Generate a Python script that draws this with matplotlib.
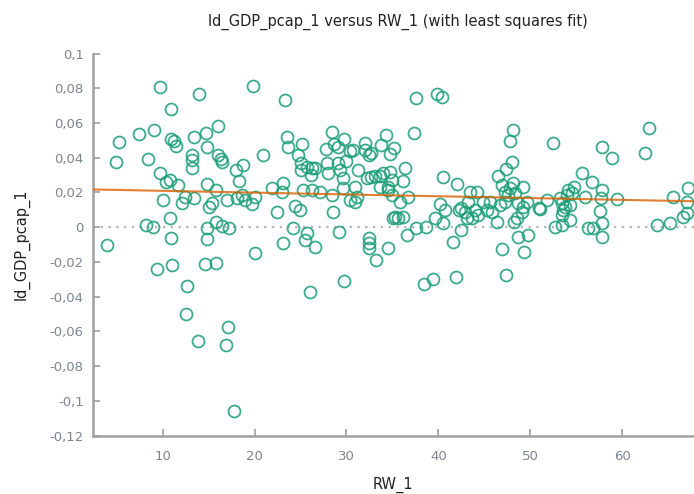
import numpy as np
import matplotlib
matplotlib.use('Agg')
import matplotlib.pyplot as plt
from matplotlib.ticker import FuncFormatter

# RW_1 values and ld_GDP_pcap_1 values
rw_1 = [
    9.7, 14.0, 10.87, 16.05, 9.09, 7.39, 5.28, 10.9, 11.2, 11.5, 13.4, 14.7, 14.85, 13.16, 13.16, 13.16,
    16.05, 16.3, 16.5, 4.89, 8.43, 18.0, 9.7, 10.8, 10.4, 11.7, 14.8, 18.3, 15.8, 10.0, 12.07, 12.4,
    13.4, 15.07, 15.4, 16.96, 18.05, 10.8, 8.2, 9.0, 10.87, 14.8, 14.85, 15.8, 16.5, 17.2, 3.97,
    9.35, 10.98, 14.6, 15.8, 12.7, 12.5, 13.9, 17.07, 16.9, 17.76,
    19.86, 23.3, 28.4, 23.5, 23.6, 25.2, 29.7, 27.8, 28.6, 29.1, 30.4, 30.75, 32.0, 32.0, 32.4, 32.7,
    34.3, 33.8, 34.7, 20.9, 18.8, 24.7, 25.1, 25.1, 25.7, 26.2, 26.6, 26.1, 27.9, 28.0, 29.1, 29.3,
    30.0, 31.3, 29.65, 32.2, 32.7, 33.1, 33.6, 34.0, 34.7, 33.6, 34.5, 23.06, 22.95, 21.9, 18.6, 18.95,
    19.7, 20.04, 25.3, 26.3, 27.1, 28.4, 29.65, 30.9, 30.4, 30.9, 31.1, 34.5, 34.9, 22.4, 24.4, 24.9,
    28.5, 24.15, 25.7, 25.5, 26.6, 23.1, 20.04, 29.2, 32.5, 32.4, 32.4, 34.5, 35.1,
    33.2, 29.76, 26.0,
    37.56, 39.8, 40.35, 37.35, 48.1, 47.8, 48.0, 47.4, 46.5, 35.2, 36.4, 34.9, 36.1, 36.7, 35.8, 35.3,
    36.2, 35.65, 40.5, 42.0, 40.2, 40.75, 39.65, 40.5, 37.6, 38.7, 36.55, 41.55, 42.5, 42.2, 42.5, 42.9,
    43.25, 43.4, 44.2, 44.0, 44.3, 43.6, 44.9, 45.25, 45.8, 45.6, 46.4, 43.1, 46.9, 47.25, 47.6, 47.8,
    48.15, 48.35, 47.25, 46.7, 49.2, 48.7, 49.2, 49.05, 49.6, 48.5, 50.9, 48.2, 48.7, 49.7, 46.9,
    49.35, 38.4, 39.4, 41.9, 47.35,
    62.95, 52.5, 57.8, 58.9, 62.5, 55.6, 56.7, 54.7, 54.1, 53.95, 54.5, 53.2, 53.4, 53.8, 53.6, 54.3,
    51.8, 51.05, 55.95, 57.8, 57.7, 59.4, 57.6, 57.8, 57.8, 53.4, 54.3, 52.7, 53.4, 56.3, 56.85, 63.75,
    65.2, 65.55, 67.2, 67.0, 66.65, 67.0,
]
ld_gdp_pcap_1 = [
    0.081, 0.0766, 0.0681, 0.058, 0.056, 0.0537, 0.049, 0.051, 0.0497, 0.047, 0.052, 0.0543, 0.0464, 0.0416, 0.0388, 0.034,
    0.0416, 0.0393, 0.0378, 0.0374, 0.0393, 0.033, 0.0315, 0.0272, 0.026, 0.0244, 0.025, 0.0265, 0.0215, 0.0157, 0.0138, 0.0176,
    0.0171, 0.0119, 0.0138, 0.0157, 0.0167, 0.0055, 0.0013, 0.0003, -0.006, -0.0006, -0.0069, 0.0032, 0.0009, -0.0006, -0.0102,
    -0.0242, -0.0217, -0.0211, -0.0204, -0.0338, -0.0501, -0.0655, -0.0576, -0.0678, -0.1056,
    0.0814, 0.0733, 0.0551, 0.0522, 0.0464, 0.0478, 0.0509, 0.0451, 0.0478, 0.0459, 0.044, 0.0445, 0.0484, 0.0445, 0.0416, 0.0426,
    0.0532, 0.0474, 0.042, 0.0416, 0.0359, 0.0416, 0.0369, 0.033, 0.0349, 0.034, 0.0343, 0.0301, 0.0369, 0.0311, 0.0369, 0.033,
    0.0382, 0.033, 0.0286, 0.0282, 0.0291, 0.0297, 0.0297, 0.0311, 0.032, 0.0234, 0.0234, 0.0253, 0.0205, 0.0228, 0.0186, 0.0157,
    0.0134, 0.0176, 0.0215, 0.0215, 0.0205, 0.0186, 0.0225, 0.0234, 0.0157, 0.0147, 0.0176, 0.0215, 0.0186, 0.009, 0.0124, 0.01,
    0.009, -0.0006, -0.0035, -0.0073, -0.0115, -0.0092, -0.0148, -0.0025, -0.0063, -0.0092, -0.0121, -0.0118, 0.0052,
    -0.0188, -0.0308, -0.0374,
    0.0743, 0.0766, 0.0749, 0.0541, 0.056, 0.0497, 0.0378, 0.0336, 0.0297, 0.0455, 0.0343, 0.0272, 0.0267, 0.0176, 0.0147, 0.0061,
    0.0061, 0.0052, 0.0291, 0.0248, 0.0132, 0.01, 0.0052, 0.0023, -0.0006, 0.0003, -0.0044, -0.0083, -0.0016, 0.01, 0.011, 0.009,
    0.0147, 0.0205, 0.0205, 0.01, 0.0071, 0.0052, 0.0147, 0.01, 0.009, 0.0147, 0.0032, 0.0052, 0.0244, 0.0205, 0.0186, 0.0225,
    0.0253, 0.0196, 0.0147, 0.0128, 0.0234, 0.0138, 0.0119, 0.009, 0.0147, 0.0052, 0.011, 0.0032, -0.0054, -0.0044, -0.0128,
    -0.014, -0.0328, -0.03, -0.0288, -0.0275,
    0.0574, 0.0484, 0.0464, 0.0397, 0.0426, 0.0311, 0.0259, 0.0234, 0.0215, 0.0186, 0.0196, 0.0167, 0.0138, 0.0119, 0.01, 0.0128,
    0.0157, 0.0105, 0.0176, 0.0215, 0.0171, 0.0163, 0.0094, 0.0023, -0.0054, 0.0071, 0.0042, 0.0003, 0.0013, -0.0006, -0.0006, 0.0013,
    0.0023, 0.0176, 0.0228, 0.0147, 0.0061, 0.0081,
]

x = np.array(rw_1)
y = np.array(ld_gdp_pcap_1)

# least squares fit of y on x
slope, intercept = np.polyfit(x, y, 1)

xmin, xmax = 2.4, 67.8

fig = plt.figure(figsize=(6.94, 4.94), dpi=100)
ax = fig.add_axes([0.1336, 0.118, 1.0 - 0.1336, 0.7737])

grey = '#a0a0a0'
ax.axhline(0, color='#b4b4b4', linestyle=(0, (1, 2.5)), linewidth=1.6, zorder=1)

ax.plot(x, y, 'o', markersize=8.6, markerfacecolor='none',
        markeredgecolor='#1b9e77', markeredgewidth=1.3, alpha=0.85, zorder=3)

xf = np.array([xmin, xmax])
ax.plot(xf, intercept + slope * xf, color='#d95f02', linewidth=1.5, alpha=0.8, zorder=4)

ax.set_xlim(xmin, xmax)
ax.set_ylim(-0.12, 0.1)
ax.set_xticks([10, 20, 30, 40, 50, 60])
ax.set_yticks(np.arange(-0.12, 0.1001, 0.02))

def comma_fmt(v, pos):
    s = '{:g}'.format(round(v, 2))
    if s == '-0':
        s = '0'
    return s.replace('.', ',')

ax.yaxis.set_major_formatter(FuncFormatter(comma_fmt))

for side in ['top', 'right']:
    ax.spines[side].set_visible(False)
for side in ['left', 'bottom']:
    ax.spines[side].set_color(grey)
    ax.spines[side].set_linewidth(1.8)

ax.tick_params(direction='in', length=5, width=1.2, color=grey,
               labelcolor='#7d8590', labelsize=9.5)
ax.tick_params(axis='x', pad=10.5)
ax.tick_params(axis='y', pad=6.5)

fig.text(398 / 694, 1 - 21.7 / 494, 'ld_GDP_pcap_1 versus RW_1 (with least squares fit)',
         fontsize=10.5, color='#222222', ha='center', va='center')
ax.set_xlabel('RW_1', fontsize=10.5, color='#222222', va='center')
ax.set_ylabel('ld_GDP_pcap_1', fontsize=10.5, color='#222222', va='center')
ax.xaxis.set_label_coords(0.5, -0.129)
ax.yaxis.set_label_coords(-0.119, 0.5)

plt.savefig('out.png', dpi=100)
